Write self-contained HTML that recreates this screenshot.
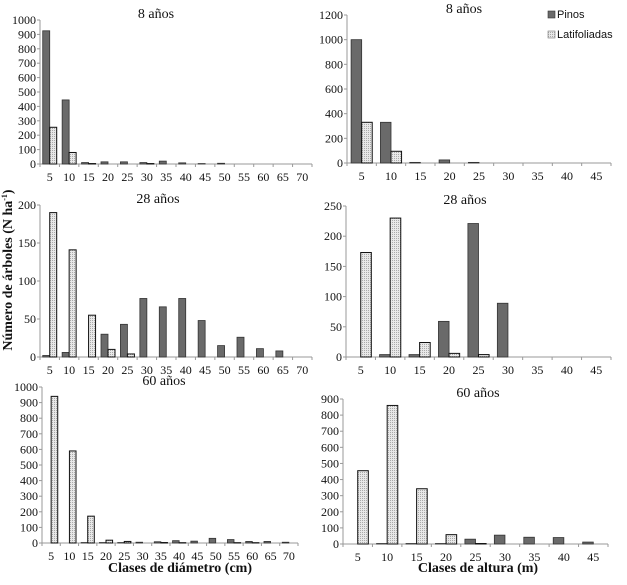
<!DOCTYPE html>
<html><head><meta charset="utf-8"><style>
body{margin:0;background:#fff;width:627px;height:580px;overflow:hidden}
text{font-family:"Liberation Serif","Times New Roman",serif;fill:#111}
</style></head><body>
<svg id="s" width="627" height="580" xmlns="http://www.w3.org/2000/svg" font-family="Liberation Serif, serif">
<defs><pattern id="dots" width="2" height="2" patternUnits="userSpaceOnUse"><rect width="2" height="2" fill="#e8e8e8"/><rect width="1" height="1" fill="#aaaaaa"/></pattern></defs>
<text x="12" y="270" transform="rotate(-90 12 270)" text-anchor="middle" font-size="14" font-weight="bold" font-family="Liberation Serif, serif">Número de árboles (N ha<tspan font-size="8" dy="-5">-1</tspan><tspan dy="5">)</tspan></text>
<text x="180" y="572" text-anchor="middle" font-size="14" font-weight="bold" font-family="Liberation Serif, serif">Clases de diámetro (cm)</text>
<text x="478" y="572" text-anchor="middle" font-size="14" font-weight="bold" font-family="Liberation Serif, serif">Clases de altura (m)</text>
<g>
<rect x="548" y="11" width="7" height="7" fill="#6a6a6a" stroke="#333" stroke-width="0.6"/>
<text x="557" y="18" font-size="11" font-family="Liberation Sans, sans-serif" style="font-family:'Liberation Sans',sans-serif">Pinos</text>
<rect x="548" y="31" width="7" height="7" fill="url(#dots)" stroke="#777" stroke-width="0.6"/>
<text x="557" y="38" font-size="11" font-family="Liberation Sans, sans-serif" style="font-family:'Liberation Sans',sans-serif">Latifoliadas</text>
</g>
</svg>
<script>
const diamCats=[5,10,15,20,25,30,35,40,45,50,55,60,65,70];
const altCats=[5,10,15,20,25,30,35,40,45];
const a8Pinos=[925,445,10,15,15,10,20,8,3,5,0,0,0,0];
const a8Lat=[255,80,3,0,0,3,0,0,0,0,0,0,0,0];
const a8Ticks=[0,100,200,300,400,500,600,700,800,900,1000];
const b8Pinos=[1000,330,5,25,5,0,0,0,0];
const b8Lat=[330,95,0,0,0,0,0,0,0];
const b8Ticks=[0,200,400,600,800,1000,1200];
const c28Pinos=[2,6,0,30,43,77,66,77,48,15,26,11,8,0];
const c28Lat=[190,141,55,10,4,0,0,0,0,0,0,0,0,0];
const c28Ticks=[0,50,100,150,200];
const d28Pinos=[0,4,4,59,221,89,0,0,0];
const d28Lat=[173,230,24,6,4,0,0,0,0];
const d28Ticks=[0,50,100,150,200,250];
const e60Pinos=[0,0,3,3,3,5,8,15,12,30,22,10,10,5];
const e60Lat=[940,590,172,18,10,0,3,2,0,0,2,2,0,0];
const e60Ticks=[0,100,200,300,400,500,600,700,800,900,1000];
const f60Pinos=[0,3,3,3,30,55,42,40,12];
const f60Lat=[455,860,343,58,3,0,0,0,0];
const f60Ticks=[0,100,200,300,400,500,600,700,800,900];
const titles=["8 años","8 años","28 años","28 años","60 años","60 años"];

const svg=document.getElementById('s');
const NS='http://www.w3.org/2000/svg';
const SERIF='Liberation Serif, serif';
function mk(tag,at,parent){const e=document.createElementNS(NS,tag);for(const k in at)e.setAttribute(k,at[k]);parent.appendChild(e);return e;}

function panel(id,x0,x1,y0,yTop,cats,ticks,pin,lat,title,titleX){
  const g=mk('g',{},svg);
  
  
  const max=ticks[ticks.length-1];
  const ys=v=>y0-(v/max)*(y0-yTop);
  const cw=(x1-x0)/cats.length;
  const xs=i=>x0+cw*i;
  const bw=cw*0.36;
  const t=mk('text',{x:titleX,y:yTop-2,'text-anchor':'middle','font-size':'14','font-family':SERIF},g);
  t.textContent=title;
  
  
  const ax=mk('path',{d:`M${x0},${yTop} V${y0} H${x1}`,stroke:'#999',fill:'none','stroke-width':'1'},g);
  
  
  ticks.forEach(v=>{
    mk('line',{x1:x0-3,x2:x0,y1:ys(v),y2:ys(v),stroke:'#999'},g);
    const tl=mk('text',{x:x0-4,y:ys(v)+4,'text-anchor':'end','font-size':'12','font-family':SERIF},g);
    tl.textContent=v;
    
    
  });
  cats.forEach((c,i)=>{
    mk('line',{x1:xs(i),x2:xs(i),y1:y0,y2:y0+3,stroke:'#999'},g);
    const tl=mk('text',{x:xs(i)+cw/2,y:y0+17,'text-anchor':'middle','font-size':'12','font-family':SERIF},g);
    tl.textContent=c;
    
    
    const cx=xs(i)+cw/2;
    if(pin[i]>0){
      const b=mk('rect',{x:cx-bw,y:ys(pin[i]),width:bw,height:y0-ys(pin[i]),fill:'#6a6a6a',stroke:'#333','stroke-width':'0.8'},g);
      
      
    }
    if(lat[i]>0){
      const b=mk('rect',{x:cx,y:ys(lat[i]),width:bw,height:y0-ys(lat[i]),fill:'url(#dots)',stroke:'#111','stroke-width':'1'},g);
      
      
    }
  });
  mk('line',{x1:x1,x2:x1,y1:y0,y2:y0+3,stroke:'#999'},g);
}
panel('a-8-diam',40,312,164,20,diamCats,a8Ticks,a8Pinos,a8Lat,titles[0],156);
panel('b-8-alt',347,611,163,15,altCats,b8Ticks,b8Pinos,b8Lat,titles[1],464);
panel('c-28-diam',40,312,357,205,diamCats,c28Ticks,c28Pinos,c28Lat,titles[2],158);
panel('d-28-alt',346,611,357,206,altCats,d28Ticks,d28Pinos,d28Lat,titles[3],465);
panel('e-60-diam',42,298,543,387,diamCats,e60Ticks,e60Pinos,e60Lat,titles[4],164);
panel('f-60-alt',343,608,544,399,altCats,f60Ticks,f60Pinos,f60Lat,titles[5],478);
</script>
</body></html>
